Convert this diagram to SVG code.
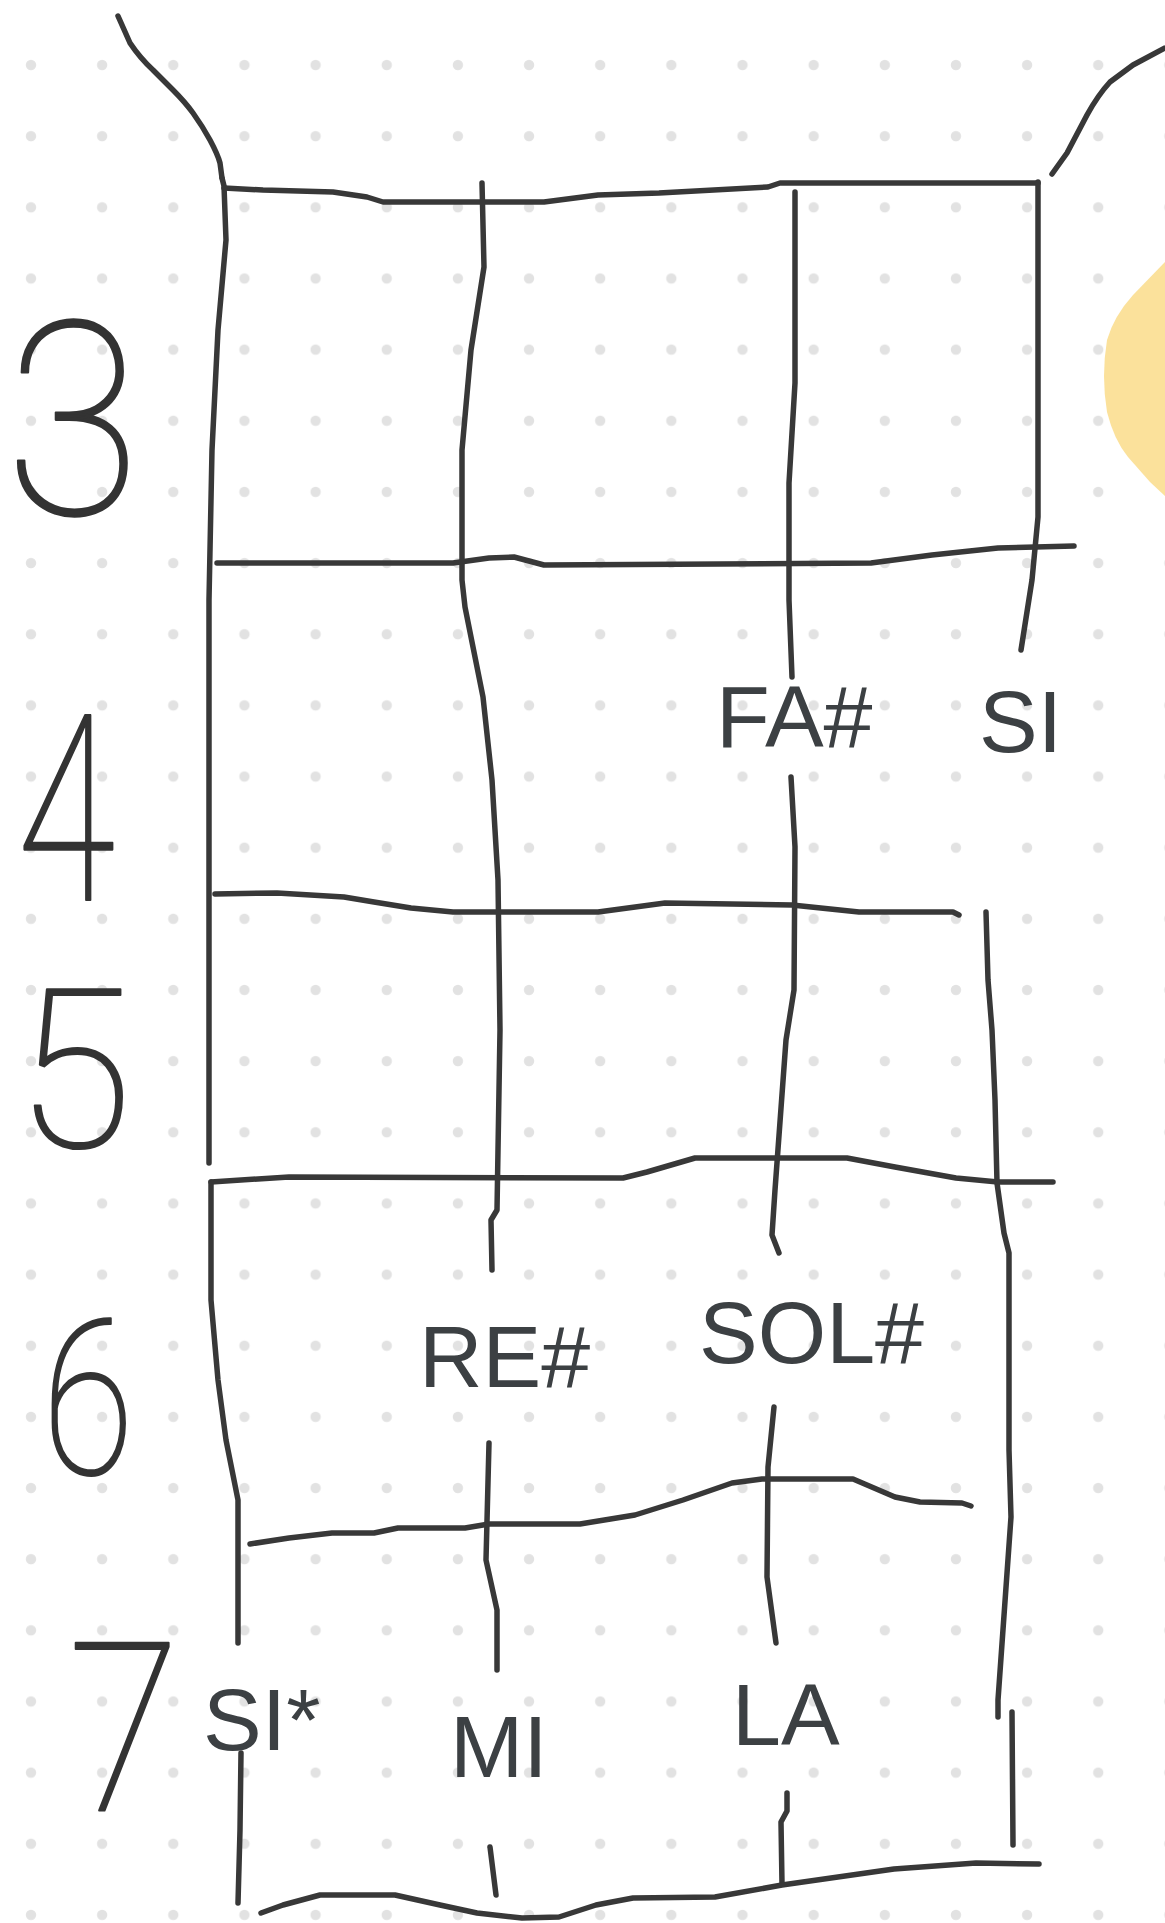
<svg xmlns="http://www.w3.org/2000/svg" width="1165" height="1923" viewBox="0 0 1165 1923">
<defs>
<pattern id="dots" x="-4.575" y="29.425" width="71.15" height="71.15" patternUnits="userSpaceOnUse">
<circle cx="35.575" cy="35.575" r="5.2" fill="#e2e2e2"/>
</pattern>
<style>
.ln{fill:none;stroke:#383838;stroke-width:5.5;stroke-linecap:round;stroke-linejoin:round}
.lb{font-family:"Liberation Sans",Arial,sans-serif;font-size:88px;fill:#3c4043}
.dg{font-family:Roboto,Lato,"DejaVu Sans",sans-serif;font-weight:100;fill:#333333;stroke:#333333;stroke-width:2.2;stroke-linejoin:round;text-anchor:middle}
</style>
</defs>
<rect width="1165" height="1923" fill="#ffffff"/>
<rect width="1165" height="1923" fill="url(#dots)"/>
<path id="blob" d="M1165,262 L1133,295 Q1114,316 1107,340 Q1101,376 1107,412 Q1114,440 1128,457 L1150,482 L1165,496 Z" fill="#fbe19b"/>
<g id="strokes">
<path class="ln" d="M118,16 L130,43 Q140,58 153,70 L173,90 Q185,102 193,113 Q203,127 210,140 Q218,155 220,163 L222,178"/>
<path class="ln" d="M1052,174 L1067,153 L1087,115 Q1098,95 1110,82 L1133,65 L1165,48"/>
<path class="ln" d="M222,178 L224,186 L226,240 L218,330 L212,450 L209,600 L209,1163"/>
<path class="ln" d="M224,188 L263,190 L333,192 L367,197 L383,202 L544,202 L598,195 L659,193 L768,187 L780,183 L1038,183"/>
<path class="ln" d="M1038,182 L1038,517 L1032,580 L1021,650"/>
<path class="ln" d="M482,183 L484,267 L471,350 L462,450 L462,580 L465,607 L483,697 L492,780 L498,880 L500,1030 L497,1210 L491,1220 L492,1270"/>
<path class="ln" d="M489,1443 L486,1560 L497,1610 L497,1670"/>
<path class="ln" d="M490,1847 L496,1895"/>
<path class="ln" d="M795,192 L795,383 L789,483 L789,600 L792,677"/>
<path class="ln" d="M791,777 L795,847 L794,990 L786,1040 L775,1190 L772,1235 L779,1253"/>
<path class="ln" d="M774,1407 L768,1467 L767,1577 L776,1643"/>
<path class="ln" d="M787,1793 L787,1811 L781,1822 L782,1884"/>
<path class="ln" d="M986,912 L988,980 L992,1030 L995,1100 L997,1183 L1004,1233 L1009,1253 L1009,1450 L1011,1517 L998,1700 L998,1717"/>
<path class="ln" d="M1012,1712 L1013,1845"/>
<path class="ln" d="M217,563 L453,563 L489,558 L514,557 L544,565 L871,563 L932,555 L998,548 L1074,546"/>
<path class="ln" d="M215,894 L277,893 L344,897 L374,902 L411,908 L453,912 L598,912 L665,903 L792,905 L859,912 L953,912 L959,915"/>
<path class="ln" d="M211,1182 L289,1177 L623,1178 L647,1172 L695,1158 L847,1158 L895,1167 L956,1178 L998,1182 L1053,1182"/>
<path class="ln" d="M211,1182 L211,1300 L218,1380 L226,1440 L232,1470 L238,1500 L238,1643"/>
<path class="ln" d="M241,1753 L240,1830 L238,1903"/>
<path class="ln" d="M250,1544 L289,1538 L332,1533 L374,1533 L398,1528 L465,1528 L489,1524 L580,1524 L635,1515 L683,1500 L732,1483 L762,1479 L853,1479 L895,1497 L920,1502 L962,1503 L971,1506"/>
<path class="ln" d="M261,1913 L283,1905 L320,1895 L395,1895 L440,1905 L477,1913 L522,1918 L559,1917 L596,1905 L633,1898 L715,1897 L782,1885 L894,1869 L976,1863 L1039,1864"/>
</g>
<g id="fret-numbers">
<text class="dg" x="73" y="514" font-size="270" textLength="135" lengthAdjust="spacingAndGlyphs">3</text>
<text class="dg" x="66" y="900" font-size="260" textLength="98" lengthAdjust="spacingAndGlyphs">4</text>
<text class="dg" x="74" y="1147" font-size="220" textLength="116" lengthAdjust="spacingAndGlyphs">5</text>
<text class="dg" x="88" y="1474" font-size="215" textLength="92" lengthAdjust="spacingAndGlyphs">6</text>
<text class="dg" x="124" y="1811" font-size="235" textLength="112" lengthAdjust="spacingAndGlyphs">7</text>
</g>
<g id="notes">
<text class="lb" x="716" y="747">FA#</text>
<text class="lb" x="979" y="752">SI</text>
<text class="lb" x="419" y="1387">RE#</text>
<text class="lb" x="699" y="1363">SOL#</text>
<text class="lb" x="203" y="1750">SI*</text>
<text class="lb" x="450" y="1777">MI</text>
<text class="lb" x="732" y="1745">LA</text>
</g>
</svg>
